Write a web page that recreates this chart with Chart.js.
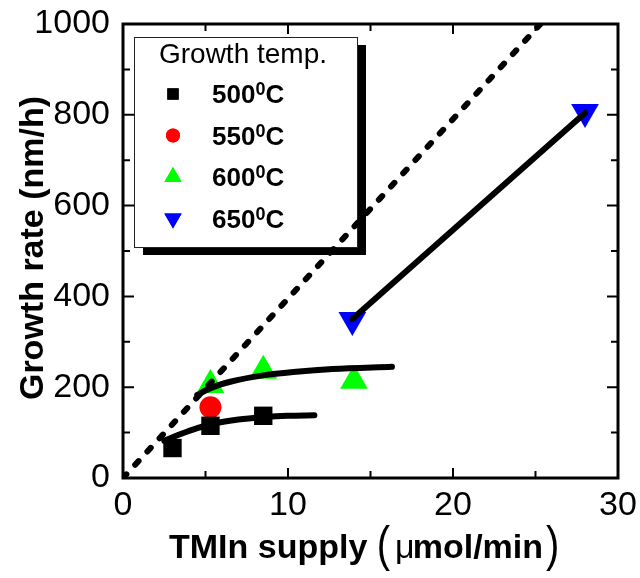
<!DOCTYPE html>
<html>
<head>
<meta charset="utf-8">
<script src="https://cdn.jsdelivr.net/npm/chart.js@4"></script>
<style>
  html, body { margin: 0; padding: 0; background: #fff; }
  #wrap { width: 640px; height: 578px; }
</style>
</head>
<body>
<div id="wrap"><canvas id="growthChart"></canvas></div>
<script>
// measured points (TMIn supply in umol/min, growth rate in nm/h)
const t500x = [3.0, 5.3, 8.5];
const t500y = [66, 115, 137];
const t550x = [5.3];
const t550y = [156];
const t600x = [5.3, 8.5, 14.0];
const t600y = [205, 236, 214];
const t650x = [13.9, 28.0];
const t650y = [348, 806];

// guide curves
const fit500x = [2.5, 3.5, 4.5, 5.5, 7.0, 8.5, 10.0, 11.6];
const fit500y = [82, 97, 110, 120, 129, 134, 137, 138];
const fit600x = [4.5, 5.3, 6.5, 8.5, 10.5, 12.7, 16.3];
const fit600y = [183, 198, 212, 226, 234, 240, 245];
const fit650x = [13.9, 28.0];
const fit650y = [350, 804];
const limitX = [0, 25.3];
const limitY = [0, 1000];

const legendLabels = ['500', '550', '600', '650'];
const xTicks = [0, 10, 20, 30];
const yTicks = [0, 200, 400, 600, 800, 1000];

const FONT = 'Liberation Sans, Arial, sans-serif';

function pts(xs, ys) {
    return xs.map((x, i) => ({ x: x, y: ys[i] }));
}

function lineSet(xs, ys, extra) {
    return Object.assign({
        data: pts(xs, ys),
        showLine: true,
        borderColor: '#000',
        borderWidth: 6,
        borderCapStyle: 'round',
        borderJoinStyle: 'round',
        cubicInterpolationMode: 'monotone',
        pointRadius: 0,
        pointHoverRadius: 0,
        fill: false
    }, extra || {});
}

function markSet(xs, ys, color, style, r, rot) {
    return {
        data: pts(xs, ys),
        showLine: false,
        pointStyle: style,
        pointRadius: r,
        pointHoverRadius: r,
        rotation: rot || 0,
        backgroundColor: color,
        borderColor: color,
        borderWidth: 0
    };
}

// frame with inward ticks on all four sides, plus axis titles
const framePlugin = {
    id: 'frame',
    afterDraw(chart) {
        const ctx = chart.ctx;
        const a = chart.chartArea;
        const sx = chart.scales.x, sy = chart.scales.y;
        ctx.save();
        ctx.strokeStyle = '#000';
        ctx.lineWidth = 3;
        ctx.strokeRect(a.left, a.top, a.right - a.left, a.bottom - a.top);
        ctx.lineWidth = 2;
        ctx.beginPath();
        for (let v = 0; v <= 30; v += 5) {
            const p = sx.getPixelForValue(v);
            const len = v % 10 === 0 ? 10 : 7;
            ctx.moveTo(p, a.bottom); ctx.lineTo(p, a.bottom - len);
            ctx.moveTo(p, a.top); ctx.lineTo(p, a.top + len);
        }
        for (let v = 0; v <= 1000; v += 100) {
            const p = sy.getPixelForValue(v);
            const len = v % 200 === 0 ? 11 : 7;
            ctx.moveTo(a.left, p); ctx.lineTo(a.left + len, p);
            ctx.moveTo(a.right, p); ctx.lineTo(a.right - len, p);
        }
        ctx.stroke();

        ctx.fillStyle = '#000';
        ctx.save();
        ctx.translate(43, 248);
        ctx.rotate(-Math.PI / 2);
        ctx.font = 'bold 34px ' + FONT;
        ctx.textAlign = 'center';
        ctx.textBaseline = 'alphabetic';
        ctx.fillText('Growth rate (nm/h)', 0, 0);
        ctx.restore();

        // x title: tall narrow parentheses around the unit
        const base = 558;
        ctx.textAlign = 'left';
        ctx.textBaseline = 'alphabetic';
        let x = 169;
        ctx.font = 'bold 34px ' + FONT;
        ctx.fillText('TMIn supply', x, base);
        x += ctx.measureText('TMIn supply ').width;
        const paren = (ch, px) => {
            ctx.save();
            ctx.translate(px, base + 3);
            ctx.scale(0.8, 1);
            ctx.font = '50px ' + FONT;
            ctx.fillText(ch, 0, 0);
            const w = ctx.measureText(ch).width * 0.8;
            ctx.restore();
            return w;
        };
        x += paren('(', x) + 5;
        ctx.font = '34px ' + FONT;
        ctx.fillText('\u03bc', x, base);
        x += ctx.measureText('\u03bc').width - 2;
        ctx.font = 'bold 34px ' + FONT;
        ctx.fillText('mol/min', x, base);
        x += ctx.measureText('mol/min').width + 3;
        paren(')', x);
        ctx.restore();
    }
};

// boxed legend with drop shadow, drawn under the data
const legendPlugin = {
    id: 'boxLegend',
    beforeDatasetsDraw(chart) {
        const ctx = chart.ctx;
        const bx = 134, by = 37, bw = 223, bh = 210;
        ctx.save();
        ctx.fillStyle = '#000';
        ctx.fillRect(bx + 9, by + 8, bw, bh);
        ctx.fillStyle = '#fff';
        ctx.fillRect(bx, by, bw, bh);
        ctx.strokeStyle = '#222';
        ctx.lineWidth = 1;
        ctx.strokeRect(bx + 0.5, by + 0.5, bw, bh);

        ctx.fillStyle = '#000';
        ctx.font = '28px ' + FONT;
        ctx.textAlign = 'center';
        ctx.textBaseline = 'alphabetic';
        ctx.fillText('Growth temp.', 243, 63);

        const markers = [
            ['#000', 'rect', 8, 0],
            ['#ff0000', 'circle', 7, 0],
            ['#00ff00', 'triangle', 10, 0],
            ['#0000ff', 'triangle', 10, 180]
        ];
        ctx.textAlign = 'left';
        legendLabels.forEach((lab, i) => {
            const base = 103 + i * 41.5;
            const m = markers[i];
            ctx.fillStyle = m[0];
            Chart.helpers.drawPoint(ctx, { pointStyle: m[1], radius: m[2], rotation: m[3], borderWidth: 0 }, 173, base - 9);
            ctx.fill();
            ctx.fillStyle = '#000';
            ctx.font = 'bold 26px ' + FONT;
            let x = 212;
            ctx.fillText(lab, x, base);
            x += ctx.measureText(lab).width;
            ctx.font = 'bold 18px ' + FONT;
            ctx.fillText('0', x, base - 8);
            x += ctx.measureText('0').width;
            ctx.font = 'bold 26px ' + FONT;
            ctx.fillText('C', x, base);
        });
        ctx.restore();
    }
};

const tickFont = { family: FONT, size: 34 };

function noMargins(s) {
    s.paddingTop = 0; s.paddingBottom = 0;
    s.paddingLeft = 0; s.paddingRight = 0;
}

new Chart(document.getElementById('growthChart'), {
    type: 'scatter',
    data: {
        datasets: [
            lineSet(limitX, limitY, { borderWidth: 6, borderDash: [5, 13], cubicInterpolationMode: 'default', tension: 0 }),
            lineSet(fit650x, fit650y),
            lineSet(fit600x, fit600y),
            lineSet(fit500x, fit500y),
            markSet(t500x, t500y, '#000', 'rect', 13),
            markSet(t550x, t550y, '#ff0000', 'circle', 11),
            markSet(t600x, t600y, '#00ff00', 'triangle', 16),
            markSet(t650x, t650y, '#0000ff', 'triangle', 16, 180)
        ]
    },
    options: {
        responsive: true,
        maintainAspectRatio: false,
        animation: false,
        events: [],
        layout: { padding: { top: 24, right: 22, left: 0, bottom: 0 } },
        plugins: { legend: { display: false }, tooltip: { enabled: false } },
        scales: {
            x: {
                type: 'linear', min: 0, max: 30,
                afterBuildTicks(s) { s.ticks = xTicks.map(v => ({ value: v })); },
                ticks: { font: tickFont, color: '#000', padding: 7, maxRotation: 0,
                    callback: v => String(v) },
                grid: { display: false, drawTicks: false },
                border: { display: false },
                afterFit(s) { s.height = 100; noMargins(s); }
            },
            y: {
                type: 'linear', min: 0, max: 1000,
                afterBuildTicks(s) { s.ticks = yTicks.map(v => ({ value: v })); },
                ticks: { font: tickFont, color: '#000', padding: 13,
                    callback: v => String(v) },
                grid: { display: false, drawTicks: false },
                border: { display: false },
                afterFit(s) { s.width = 123; noMargins(s); }
            }
        }
    },
    plugins: [legendPlugin, framePlugin]
});
</script>
</body>
</html>
